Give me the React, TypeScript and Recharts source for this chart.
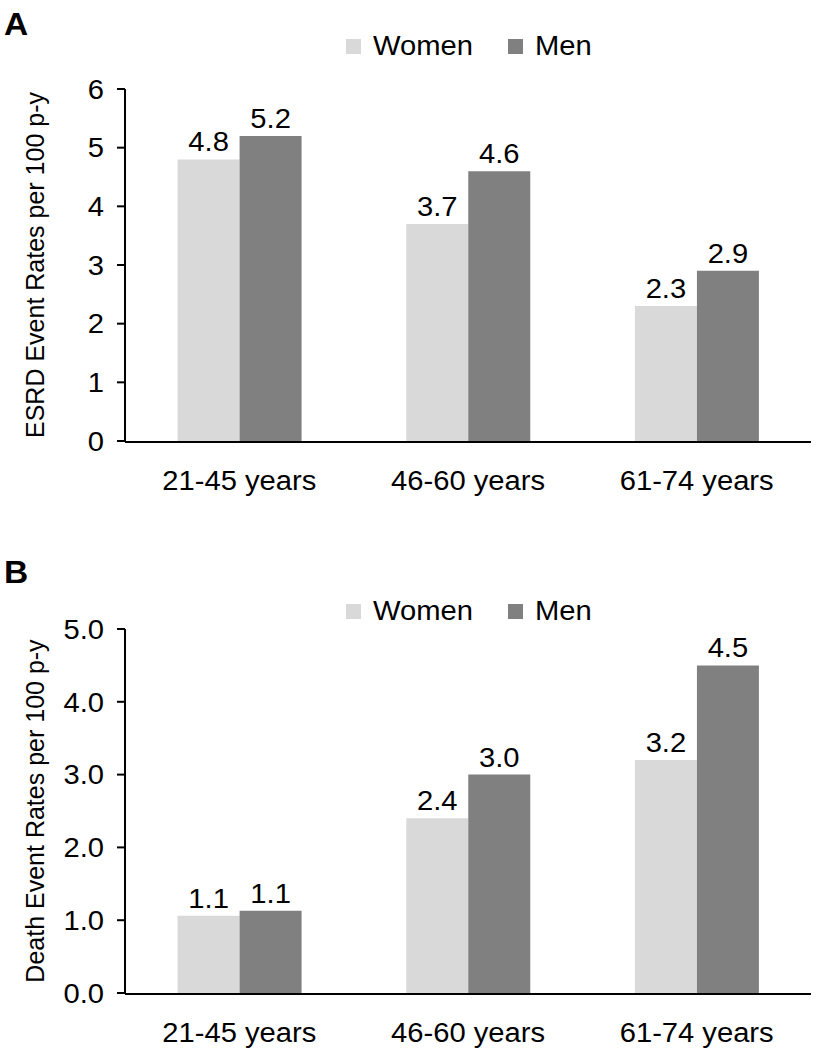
import { BarChart, Bar, XAxis, YAxis, LabelList } from 'recharts';

const ageGroups = ['21-45 years', '46-60 years', '61-74 years'];

// Panel A: ESRD event rates per 100 person-years
const esrdWomen = [4.8, 3.7, 2.3];
const esrdMen = [5.2, 4.6, 2.9];
const esrdTicks = [0, 1, 2, 3, 4, 5, 6];

// Panel B: death event rates per 100 person-years
const deathWomen = [1.06, 2.4, 3.2];
const deathMen = [1.13, 3.0, 4.5];
const deathTicks = [0, 1, 2, 3, 4, 5];

const edgeTicks = [0, 1, 2, 3];

const womenColor = '#d9d9d9';
const menColor = '#808080';
const font = '"Liberation Sans", Arial, Helvetica, sans-serif';
const textSize = 27;
const titleSize = 25;
const stretch = 1.08; // the source figure's lettering is slightly wide

const esrdData = ageGroups.map((g, i) => ({ group: g, women: esrdWomen[i], men: esrdMen[i] }));
const deathData = ageGroups.map((g, i) => ({ group: g, women: deathWomen[i], men: deathMen[i] }));

function WideText({ x, y, anchor, dy, children }: any) {
  return (
    <text
      transform={`translate(${x},${y}) scale(${stretch},1)`}
      textAnchor={anchor}
      dy={dy}
      fontSize={textSize}
      fontFamily={font}
      fill="#000"
    >
      {children}
    </text>
  );
}

const XTick = (props: any) => (
  <WideText x={props.x} y={props.y} anchor="middle" dy="0.71em">
    {props.payload.value}
  </WideText>
);

const makeYTick = (fmt: (v: number) => string) => (props: any) => (
  <WideText x={props.x} y={props.y} anchor="end" dy="0.36em">
    {fmt(props.payload.value)}
  </WideText>
);

const BarValue = (props: any) => (
  <WideText x={props.x + props.width / 2} y={props.y - 8} anchor="middle" dy="0">
    {Number(props.value).toFixed(1)}
  </WideText>
);

function LegendBox({ top }: { top: number }) {
  const item = (color: string, text: string, w: number) => (
    <div style={{ display: 'flex', alignItems: 'center', marginRight: 34 }}>
      <div style={{ width: 15, height: 15, background: color, marginRight: 12 }} />
      <div style={{ width: w }}>
        <span
          style={{
            display: 'inline-block',
            fontSize: textSize,
            color: '#000',
            transform: `scaleX(${stretch})`,
            transformOrigin: 'left center',
          }}
        >
          {text}
        </span>
      </div>
    </div>
  );
  return (
    <div style={{ position: 'absolute', top, left: 346, display: 'flex', fontFamily: font }}>
      {item(womenColor, 'Women', 101)}
      {item(menColor, 'Men', 55)}
    </div>
  );
}

function Panel({
  data,
  ticks,
  yLabel,
  fmt,
  height,
  marginTop,
  marginBottom,
}: {
  data: { group: string; women: number; men: number }[];
  ticks: number[];
  yLabel: string;
  fmt: (v: number) => string;
  height: number;
  marginTop: number;
  marginBottom: number;
}) {
  return (
    <BarChart
      width={817}
      height={height}
      data={data}
      margin={{ top: marginTop, right: 6, bottom: marginBottom, left: 0 }}
      barCategoryGap="23%"
      barGap={0}
    >
      <XAxis
        xAxisId="edges"
        type="number"
        domain={[0, 3]}
        ticks={edgeTicks}
        allowDataOverflow
        tick={false}
        tickSize={9}
        height={1}
        axisLine={{ stroke: '#000', strokeWidth: 2 }}
        tickLine={{ stroke: '#000', strokeWidth: 2 }}
      />
      <XAxis
        xAxisId="cat"
        dataKey="group"
        type="category"
        height={1}
        axisLine={false}
        tickLine={false}
        tickMargin={24}
        tick={XTick}
      />
      <YAxis
        width={125}
        domain={[ticks[0], ticks[ticks.length - 1]]}
        ticks={ticks}
        tick={makeYTick(fmt)}
        tickSize={8}
        tickMargin={13}
        axisLine={{ stroke: '#000', strokeWidth: 2 }}
        tickLine={{ stroke: '#000', strokeWidth: 2 }}
        label={{
          value: yLabel,
          angle: -90,
          position: 'insideLeft',
          dx: 30,
          style: { textAnchor: 'middle', fontSize: titleSize, fill: '#000', fontFamily: font },
        }}
      />
      <Bar xAxisId="cat" dataKey="women" fill={womenColor} isAnimationActive={false}>
        <LabelList dataKey="women" content={BarValue} />
      </Bar>
      <Bar xAxisId="cat" dataKey="men" fill={menColor} isAnimationActive={false}>
        <LabelList dataKey="men" content={BarValue} />
      </Bar>
    </BarChart>
  );
}

const letterStyle = {
  position: 'absolute' as const,
  left: 4,
  fontSize: 31,
  fontWeight: 'bold' as const,
  transform: `scaleX(${stretch})`,
  transformOrigin: 'left center',
};

export default function App() {
  return (
    <div
      style={{
        position: 'absolute',
        left: 0,
        top: 0,
        width: 817,
        height: 1049,
        background: '#fff',
        fontFamily: font,
        overflow: 'hidden',
      }}
    >
      <div style={{ ...letterStyle, top: 7 }}>A</div>
      <div style={{ ...letterStyle, top: 555 }}>B</div>
      <div style={{ position: 'absolute', left: 0, top: 0 }}>
        <Panel
          data={esrdData}
          ticks={esrdTicks}
          yLabel="ESRD Event Rates per 100 p-y"
          fmt={(v) => String(v)}
          height={530}
          marginTop={89}
          marginBottom={87}
        />
      </div>
      <div style={{ position: 'absolute', left: 0, top: 540 }}>
        <Panel
          data={deathData}
          ticks={deathTicks}
          yLabel="Death Event Rates per 100 p-y"
          fmt={(v) => v.toFixed(1)}
          height={509}
          marginTop={89}
          marginBottom={54}
        />
      </div>
      <LegendBox top={31} />
      <LegendBox top={596} />
    </div>
  );
}
